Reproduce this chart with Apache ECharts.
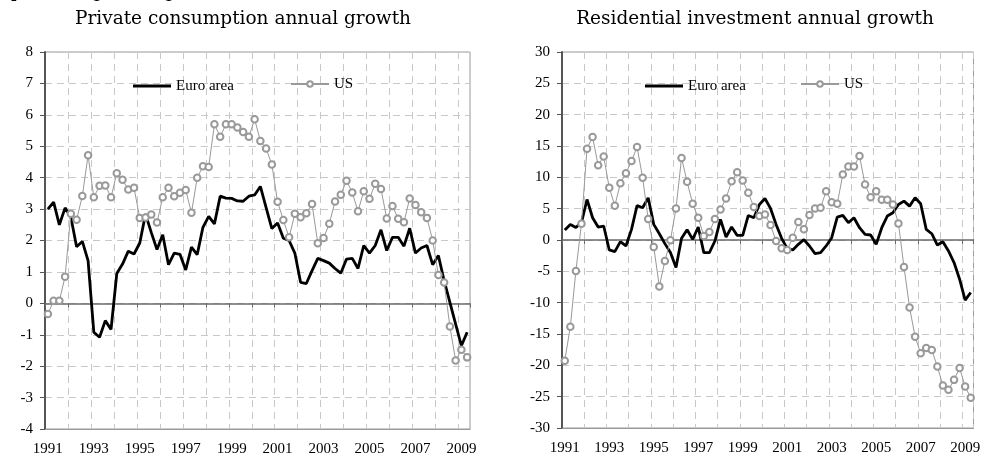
<!DOCTYPE html>
<html>
<head>
<meta charset="utf-8">
<style>
  html, body { margin: 0; padding: 0; background: #fff; }
  #main { width: 984px; height: 461px; }
</style>
<script src="https://cdn.jsdelivr.net/npm/echarts@6.0.0/dist/echarts.min.js"></script>
</head>
<body>
<div id="main"></div>
<script>
// quarters 1991Q1 .. 2009Q2
var quarters = [];
for (var y = 1991; y <= 2009; y++) {
  for (var q = 1; q <= 4; q++) {
    if (y === 2009 && q > 2) break;
    quarters.push(y + 'Q' + q);
  }
}

// private consumption, annual growth (%)
var consEuro = [3.0, 3.22, 2.5, 3.04, 2.75, 1.8, 1.97, 1.36, -0.92, -1.08,
  -0.55, -0.83, 0.95, 1.25, 1.66, 1.57, 1.92, 2.84, 2.26, 1.71,
  2.18, 1.23, 1.6, 1.56, 1.06, 1.79, 1.55, 2.42, 2.77, 2.53,
  3.41, 3.35, 3.34, 3.26, 3.25, 3.41, 3.45, 3.72, 3.05, 2.38,
  2.56, 2.07, 2.0, 1.6, 0.67, 0.63, 1.04, 1.43, 1.36, 1.28,
  1.11, 0.96, 1.41, 1.43, 1.11, 1.84, 1.6, 1.84, 2.34, 1.68,
  2.1, 2.1, 1.82, 2.39, 1.6, 1.76, 1.84, 1.23, 1.52, 0.72,
  0.03, -0.66, -1.35, -0.92];
var consUS = [-0.34, 0.08, 0.08, 0.85, 2.85, 2.66, 3.42, 4.71, 3.38, 3.74,
  3.75, 3.38, 4.14, 3.93, 3.62, 3.68, 2.72, 2.73, 2.83, 2.57,
  3.38, 3.68, 3.41, 3.52, 3.61, 2.88, 4.0, 4.36, 4.34, 5.7,
  5.3, 5.7, 5.7, 5.6, 5.45, 5.3, 5.86, 5.17, 4.93, 4.42,
  3.23, 2.65, 2.1, 2.85, 2.74, 2.87, 3.16, 1.91, 2.08, 2.53,
  3.24, 3.46, 3.9, 3.53, 2.93, 3.57, 3.33, 3.81, 3.64, 2.7,
  3.1, 2.69, 2.58, 3.34, 3.13, 2.9, 2.72, 2.0, 0.9, 0.66,
  -0.74, -1.82, -1.48, -1.72];

// residential investment, annual growth (%)
var resEuro = [1.59, 2.49, 2.01, 2.76, 6.47, 3.55, 2.07, 2.23, -1.59, -1.86,
  -0.27, -0.95, 1.7, 5.51, 5.14, 6.73, 2.49, 1.0, -0.58, -2.01,
  -4.4, 0.27, 1.64, 0.1, 2.07, -2.01, -2.01, -0.16, 3.29, 0.48,
  2.07, 0.74, 0.74, 3.92, 3.55, 5.67, 6.63, 5.04, 2.49, 0.27,
  -1.38, -1.59, -0.69, 0.05, -0.95, -2.17, -2.01, -0.95, 0.37, 3.66,
  3.92, 2.76, 3.55, 1.96, 0.9, 0.8, -0.69, 1.96, 3.82, 4.35,
  5.67, 6.2, 5.41, 6.73, 5.78, 1.7, 1.0, -0.8, -0.27, -1.75,
  -3.6, -6.26, -9.6, -8.38];
var resUS = [-19.25, -13.84, -4.93, 2.6, 14.58, 16.44, 11.93, 13.31, 8.32, 5.46,
  9.07, 10.66, 12.62, 14.85, 9.92, 3.34, -1.11, -7.42, -3.34, -0.05,
  5.04, 13.1, 9.28, 5.78, 3.55, 0.64, 1.27, 3.34, 4.88, 6.63,
  9.38, 10.82, 9.49, 7.53, 5.25, 3.82, 4.08, 2.39, -0.16, -1.33,
  -1.59, 0.37, 2.86, 1.7, 3.98, 5.04, 5.14, 7.79, 6.04, 5.78,
  10.45, 11.72, 11.72, 13.41, 8.85, 6.84, 7.79, 6.42, 6.42, 5.67,
  2.65, -4.29, -10.76, -15.43, -18.08, -17.23, -17.55, -20.2, -23.22, -23.91,
  -22.32, -20.41, -23.38, -25.19];

var titles = ['Private consumption annual growth', 'Residential investment annual growth'];
var names = ['Euro area', 'US'];

var serif = '"Liberation Serif", "Times New Roman", serif';
var titleFont = '"DejaVu Serif", serif';
var gridDash = { color: '#c8c8c8', width: 1, type: [7, 5] };

var chart = echarts.init(document.getElementById('main'), null, { renderer: 'canvas' });

// one x axis for labels + vertical grid, one sitting on zero with ticks
function labelAxis(gi) {
  return {
    type: 'category', gridIndex: gi, data: quarters, position: 'bottom',
    boundaryGap: true,
    axisLine: { show: true, onZero: false, lineStyle: { color: '#9a9a9a', width: 1 } },
    axisTick: { show: false },
    axisLabel: {
      interval: 7, margin: 13, color: '#000', fontFamily: serif, fontSize: 15,
      formatter: function (v) { return v.slice(0, 4); }
    },
    splitLine: { show: true, interval: 3, lineStyle: gridDash }
  };
}
function zeroAxis(gi) {
  return {
    type: 'category', gridIndex: gi, data: quarters, position: 'top',
    boundaryGap: true,
    axisLine: { show: true, onZero: true, lineStyle: { color: '#6a6a6a', width: 1.5 } },
    axisTick: { show: true, interval: 3, inside: true, length: 4, lineStyle: { color: '#6a6a6a' } },
    axisLabel: { show: false },
    splitLine: { show: false }
  };
}
function valueAxis(gi, min, max, step) {
  return {
    type: 'value', gridIndex: gi, min: min, max: max, interval: step,
    axisLine: { show: true, lineStyle: { color: '#555', width: 2 } },
    axisTick: { show: true, length: 5, lineStyle: { color: '#555' } },
    axisLabel: { margin: 12, color: '#000', fontFamily: serif, fontSize: 15 },
    splitLine: { show: true, lineStyle: gridDash }
  };
}
function euroSeries(xi, yi, data) {
  return {
    name: names[0], type: 'line', xAxisIndex: xi, yAxisIndex: yi, data: data,
    symbol: 'none', color: '#000',
    lineStyle: { color: '#000', width: 2.8 }
  };
}
function usSeries(xi, yi, data) {
  return {
    name: names[1], type: 'line', xAxisIndex: xi, yAxisIndex: yi, data: data,
    symbol: 'emptyCircle', symbolSize: 6.5, showAllSymbol: true, color: '#999',
    itemStyle: { color: '#999', borderWidth: 1 },
    lineStyle: { color: '#999', width: 1 }
  };
}
// euro: plain thick line icon; US: line with small hollow circle
function legendEuro(x) {
  return {
    data: [{ name: names[0], icon: 'rect' }], left: x - 5, top: 73.5,
    itemWidth: 38, itemHeight: 3,
    textStyle: { color: '#000', fontFamily: serif, fontSize: 15 },
    selectedMode: false
  };
}
function legendUS(x) {
  return {
    data: [names[1]], left: x - 5, top: 71.5,
    itemWidth: 38, itemHeight: 7,
    textStyle: { color: '#000', fontFamily: serif, fontSize: 15 },
    selectedMode: false
  };
}

var option = {
  animation: false,
  backgroundColor: '#fff',
  graphic: [
    // heading above the panels, mostly cut off by the top edge
    { type: 'text', x: 4, y: 1.5, style: { text: '(percentage change)', font: '18px ' + titleFont, fill: '#000', align: 'left', verticalAlign: 'bottom' } },
    { type: 'text', x: 243, y: 19, style: { text: titles[0], font: '18.5px ' + titleFont, fill: '#000', align: 'center', verticalAlign: 'middle' } },
    { type: 'text', x: 755, y: 19, style: { text: titles[1], font: '18.5px ' + titleFont, fill: '#000', align: 'center', verticalAlign: 'middle' } }
  ],
  legend: [legendEuro(133), legendUS(290), legendEuro(645), legendUS(800)],
  grid: [
    { left: 45, top: 52, width: 425, height: 377, show: true, borderColor: '#9a9a9a', borderWidth: 1, backgroundColor: 'transparent' },
    { left: 562, top: 52, width: 411.5, height: 376, show: true, borderColor: '#9a9a9a', borderWidth: 1, backgroundColor: 'transparent' }
  ],
  xAxis: [labelAxis(0), zeroAxis(0), labelAxis(1), zeroAxis(1)],
  yAxis: [valueAxis(0, -4, 8, 1), valueAxis(1, -30, 30, 5)],
  series: [
    euroSeries(0, 0, consEuro),
    usSeries(0, 0, consUS),
    euroSeries(2, 1, resEuro),
    usSeries(2, 1, resUS)
  ]
};

chart.setOption(option);
</script>
</body>
</html>
